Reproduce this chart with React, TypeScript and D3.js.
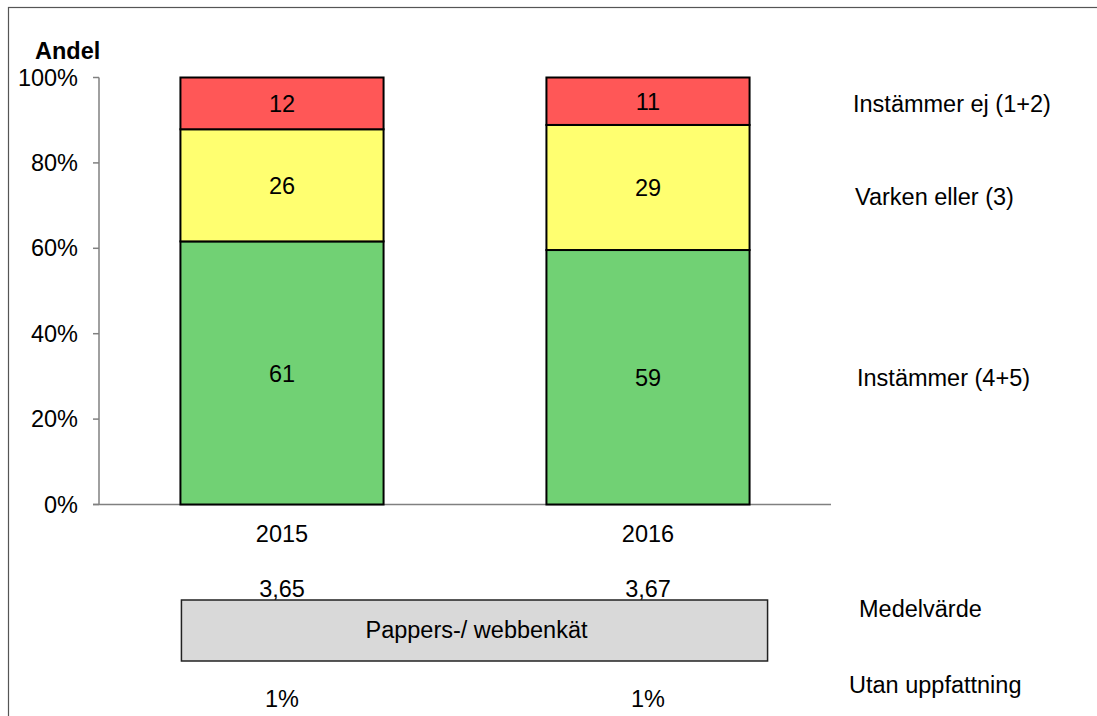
import React from "react";
import * as d3 from "d3";

const years = ["2015", "2016"];
const instammer = [61, 59];
const varken = [26, 29];
const instammerEj = [12, 11];
const medelvarde = [3.65, 3.67];
const utanUppfattning = [1, 1];
const yTicks = [0, 0.2, 0.4, 0.6, 0.8, 1];
const seriesKeys = ["Instämmer (4+5)", "Varken eller (3)", "Instämmer ej (1+2)"];
const seriesColors = ["#71d174", "#ffff70", "#ff5757"];
const groupLabel = "Pappers-/ webbenkät";

const W = 1097;
const H = 716;
const FONT = "Arial, 'Liberation Sans', sans-serif";
const FS = 23.5;

export default function App() {
  const rows = years.map((y, i) => ({
    year: y,
    [seriesKeys[0]]: instammer[i],
    [seriesKeys[1]]: varken[i],
    [seriesKeys[2]]: instammerEj[i],
  }));
  const stack = d3.stack<any>().keys(seriesKeys).offset(d3.stackOffsetExpand);
  const stacked = stack(rows);

  const x = d3
    .scaleBand<string>()
    .domain(years)
    .range([99, 831])
    .paddingInner(0.445)
    .paddingOuter(0.2225);
  const y = d3.scaleLinear().domain([0, 1]).range([504.5, 77.5]);
  const bw = x.bandwidth();

  const legendY = [385.7, 205, 111.7];
  const legendX = [857, 855, 853];

  const boxLeft = (x(years[0]) as number) + 1;
  const boxRight = (x(years[years.length - 1]) as number) + bw + 18;

  return (
    <svg
      width={W}
      height={H}
      style={{ position: "absolute", left: 0, top: 0, fontFamily: FONT }}
    >
      <rect x={0} y={0} width={W} height={H} fill="#fff" />
      <rect x={8.5} y={7.5} width={1200} height={800} fill="none" stroke="#555" strokeWidth={1.2} />

      {/* Y axis */}
      <text x={35} y={59} fontSize={FS} fontWeight="bold" fill="#000">
        Andel
      </text>
      <line x1={99} x2={99} y1={y(1)} y2={y(0)} stroke="#808080" strokeWidth={1.5} />
      {yTicks.map((t) => (
        <g key={t}>
          <line x1={93} x2={99} y1={y(t)} y2={y(t)} stroke="#808080" strokeWidth={1.5} />
          <text x={78} y={y(t) + 8} fontSize={FS} textAnchor="end" fill="#000">
            {d3.format(".0%")(t)}
          </text>
        </g>
      ))}
      <line x1={93} x2={831} y1={y(0)} y2={y(0)} stroke="#808080" strokeWidth={1.5} />

      {/* Bars */}
      {stacked.map((s, si) =>
        s.map((d, i) => {
          const x0 = x(years[i]) as number;
          const y0 = y(d[1]);
          const y1 = y(d[0]);
          return (
            <g key={`${si}-${i}`}>
              <rect
                x={x0}
                y={y0}
                width={bw}
                height={y1 - y0}
                fill={seriesColors[si]}
                stroke="#000"
                strokeWidth={2}
              />
              <text
                x={x0 + bw / 2}
                y={(y0 + y1) / 2 + 8.8}
                fontSize={FS}
                textAnchor="middle"
                fill="#000"
              >
                {(rows[i] as any)[s.key]}
              </text>
            </g>
          );
        })
      )}

      {/* Series labels */}
      {seriesKeys.map((k, i) => (
        <text key={k} x={legendX[i]} y={legendY[i]} fontSize={FS} fill="#000">
          {k}
        </text>
      ))}

      {/* Year labels */}
      {years.map((yr) => (
        <text
          key={yr}
          x={(x(yr) as number) + bw / 2}
          y={542}
          fontSize={FS}
          textAnchor="middle"
          fill="#000"
        >
          {yr}
        </text>
      ))}

      {/* Mean values */}
      {years.map((yr, i) => (
        <text
          key={"m" + yr}
          x={(x(yr) as number) + bw / 2}
          y={597}
          fontSize={FS}
          textAnchor="middle"
          fill="#000"
        >
          {medelvarde[i].toFixed(2).replace(".", ",")}
        </text>
      ))}

      <rect
        x={boxLeft}
        y={600}
        width={boxRight - boxLeft}
        height={61}
        fill="#d9d9d9"
        stroke="#222"
        strokeWidth={1.5}
      />
      <text x={(boxLeft + boxRight) / 2 + 2} y={638} fontSize={FS} textAnchor="middle" fill="#000">
        {groupLabel}
      </text>

      {/* No opinion */}
      {years.map((yr, i) => (
        <text
          key={"u" + yr}
          x={(x(yr) as number) + bw / 2}
          y={707}
          fontSize={FS}
          textAnchor="middle"
          fill="#000"
        >
          {utanUppfattning[i] + "%"}
        </text>
      ))}

      <text x={859} y={616.7} fontSize={FS} fill="#000">
        Medelvärde
      </text>
      <text x={849} y={692.7} fontSize={FS} fill="#000">
        Utan uppfattning
      </text>
    </svg>
  );
}
